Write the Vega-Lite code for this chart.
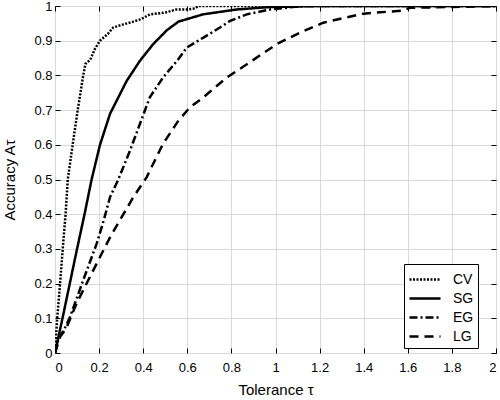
{
  "$schema": "https://vega.github.io/schema/vega-lite/v6.json",
  "width": 441,
  "height": 347,
  "autosize": "none",
  "padding": {"left": 55, "top": 6, "right": 4, "bottom": 47},
  "config": {
    "font": "Liberation Sans",
    "view": {"stroke": "black", "strokeWidth": 1},
    "axis": {
      "gridColor": "#d9d9d9",
      "gridWidth": 1,
      "domain": false,
      "tickColor": "black",
      "tickSize": -5,
      "labelFontSize": 13,
      "labelColor": "black",
      "titleFontSize": 15,
      "titleFontWeight": "normal",
      "titleColor": "black",
      "labelFont": "Liberation Sans",
      "titleFont": "Liberation Sans"
    }
  },
  "data": {
    "values": [
      {"m": "CV", "x": 0, "y": 0},
      {"m": "CV", "x": 0.01, "y": 0.1},
      {"m": "CV", "x": 0.023, "y": 0.2},
      {"m": "CV", "x": 0.035, "y": 0.3},
      {"m": "CV", "x": 0.048, "y": 0.4},
      {"m": "CV", "x": 0.058, "y": 0.5},
      {"m": "CV", "x": 0.08, "y": 0.6},
      {"m": "CV", "x": 0.103, "y": 0.7},
      {"m": "CV", "x": 0.128, "y": 0.8},
      {"m": "CV", "x": 0.138, "y": 0.833},
      {"m": "CV", "x": 0.16, "y": 0.845},
      {"m": "CV", "x": 0.18, "y": 0.875},
      {"m": "CV", "x": 0.204, "y": 0.9},
      {"m": "CV", "x": 0.24, "y": 0.92},
      {"m": "CV", "x": 0.264, "y": 0.938},
      {"m": "CV", "x": 0.31, "y": 0.947},
      {"m": "CV", "x": 0.355, "y": 0.955},
      {"m": "CV", "x": 0.39, "y": 0.962},
      {"m": "CV", "x": 0.43, "y": 0.976},
      {"m": "CV", "x": 0.5, "y": 0.981},
      {"m": "CV", "x": 0.55, "y": 0.99},
      {"m": "CV", "x": 0.6, "y": 0.99},
      {"m": "CV", "x": 0.635, "y": 0.993},
      {"m": "CV", "x": 0.65, "y": 1.0},
      {"m": "CV", "x": 2, "y": 1.0},
      {"m": "SG", "x": 0, "y": 0},
      {"m": "SG", "x": 0.034, "y": 0.1},
      {"m": "SG", "x": 0.067, "y": 0.2},
      {"m": "SG", "x": 0.1, "y": 0.3},
      {"m": "SG", "x": 0.134, "y": 0.4},
      {"m": "SG", "x": 0.166, "y": 0.5},
      {"m": "SG", "x": 0.204, "y": 0.6},
      {"m": "SG", "x": 0.25, "y": 0.69},
      {"m": "SG", "x": 0.325, "y": 0.784},
      {"m": "SG", "x": 0.385, "y": 0.842},
      {"m": "SG", "x": 0.445, "y": 0.89},
      {"m": "SG", "x": 0.507, "y": 0.93},
      {"m": "SG", "x": 0.56, "y": 0.955},
      {"m": "SG", "x": 0.672, "y": 0.976},
      {"m": "SG", "x": 0.748, "y": 0.983},
      {"m": "SG", "x": 0.824, "y": 0.99},
      {"m": "SG", "x": 0.975, "y": 0.997},
      {"m": "SG", "x": 1.2, "y": 1.0},
      {"m": "SG", "x": 2, "y": 1.0},
      {"m": "EG", "x": 0, "y": 0},
      {"m": "EG", "x": 0.015, "y": 0.04},
      {"m": "EG", "x": 0.023, "y": 0.05},
      {"m": "EG", "x": 0.04, "y": 0.065},
      {"m": "EG", "x": 0.068, "y": 0.104},
      {"m": "EG", "x": 0.1, "y": 0.16},
      {"m": "EG", "x": 0.128, "y": 0.21},
      {"m": "EG", "x": 0.16, "y": 0.265},
      {"m": "EG", "x": 0.189, "y": 0.315},
      {"m": "EG", "x": 0.22, "y": 0.38},
      {"m": "EG", "x": 0.25, "y": 0.45},
      {"m": "EG", "x": 0.287, "y": 0.5},
      {"m": "EG", "x": 0.34, "y": 0.583},
      {"m": "EG", "x": 0.385, "y": 0.66},
      {"m": "EG", "x": 0.43, "y": 0.737},
      {"m": "EG", "x": 0.49, "y": 0.794},
      {"m": "EG", "x": 0.56, "y": 0.847},
      {"m": "EG", "x": 0.597, "y": 0.88},
      {"m": "EG", "x": 0.673, "y": 0.909},
      {"m": "EG", "x": 0.748, "y": 0.938},
      {"m": "EG", "x": 0.794, "y": 0.957},
      {"m": "EG", "x": 0.87, "y": 0.976},
      {"m": "EG", "x": 0.975, "y": 0.99},
      {"m": "EG", "x": 1.125, "y": 1.0},
      {"m": "EG", "x": 2, "y": 1.0},
      {"m": "LG", "x": 0, "y": 0},
      {"m": "LG", "x": 0.023, "y": 0.047},
      {"m": "LG", "x": 0.05, "y": 0.07},
      {"m": "LG", "x": 0.098, "y": 0.143},
      {"m": "LG", "x": 0.174, "y": 0.239},
      {"m": "LG", "x": 0.25, "y": 0.334},
      {"m": "LG", "x": 0.355, "y": 0.449},
      {"m": "LG", "x": 0.416, "y": 0.507},
      {"m": "LG", "x": 0.49, "y": 0.603},
      {"m": "LG", "x": 0.56, "y": 0.67},
      {"m": "LG", "x": 0.612, "y": 0.708},
      {"m": "LG", "x": 0.673, "y": 0.737},
      {"m": "LG", "x": 0.779, "y": 0.794},
      {"m": "LG", "x": 0.87, "y": 0.832},
      {"m": "LG", "x": 1.005, "y": 0.89},
      {"m": "LG", "x": 1.11, "y": 0.923},
      {"m": "LG", "x": 1.217, "y": 0.952},
      {"m": "LG", "x": 1.398, "y": 0.978},
      {"m": "LG", "x": 1.58, "y": 0.987},
      {"m": "LG", "x": 1.61, "y": 0.995},
      {"m": "LG", "x": 1.79, "y": 0.997},
      {"m": "LG", "x": 2.0, "y": 1.0}
    ]
  },
  "layer": [
    {
      "mark": {"type": "line", "color": "black", "strokeWidth": 2.5, "clip": true},
      "encoding": {
        "x": {
          "field": "x", "type": "quantitative",
          "scale": {"domain": [0, 2], "nice": false},
          "axis": {"orient": "bottom", "values": [0, 0.2, 0.4, 0.6, 0.8, 1, 1.2, 1.4, 1.6, 1.8, 2], "format": "~g", "labelPadding": 13, "title": "Tolerance τ", "titlePadding": 8}
        },
        "y": {
          "field": "y", "type": "quantitative",
          "scale": {"domain": [0, 1], "nice": false},
          "axis": {"orient": "left", "values": [0, 0.1, 0.2, 0.3, 0.4, 0.5, 0.6, 0.7, 0.8, 0.9, 1], "format": "~g", "labelPadding": 8, "title": "Accuracy Aτ", "titlePadding": 16}
        },
        "strokeDash": {
          "field": "m", "type": "nominal",
          "scale": {"domain": ["CV", "SG", "EG", "LG"], "range": [[2, 1.5], [1, 0], [8, 3, 2, 3], [9, 6]]},
          "legend": {
            "title": null,
            "orient": "none",
            "legendX": 349,
            "legendY": 258,
            "strokeColor": "black",
            "fillColor": "white",
            "padding": 4,
            "symbolType": "M-1,0H2.1",
            "symbolFillColor": "transparent",
            "symbolStrokeColor": "black",
            "symbolStrokeWidth": 2.5,
            "symbolSize": 400,
            "labelFontSize": 14,
            "labelColor": "black",
            "labelFont": "Liberation Sans",
            "rowPadding": -8,
            "labelOffset": 22,
            "cornerRadius": 0
          }
        }
      }
    },
    {
      "mark": {"type": "point", "opacity": 0},
      "encoding": {
        "x": {"field": "x", "type": "quantitative", "axis": {"orient": "top", "values": [0, 0.2, 0.4, 0.6, 0.8, 1, 1.2, 1.4, 1.6, 1.8, 2], "labels": false, "title": null, "grid": false}},
        "y": {"field": "y", "type": "quantitative", "axis": {"orient": "right", "values": [0, 0.1, 0.2, 0.3, 0.4, 0.5, 0.6, 0.7, 0.8, 0.9, 1], "labels": false, "title": null, "grid": false}}
      }
    }
  ],
  "resolve": {"axis": {"x": "independent", "y": "independent"}}
}
